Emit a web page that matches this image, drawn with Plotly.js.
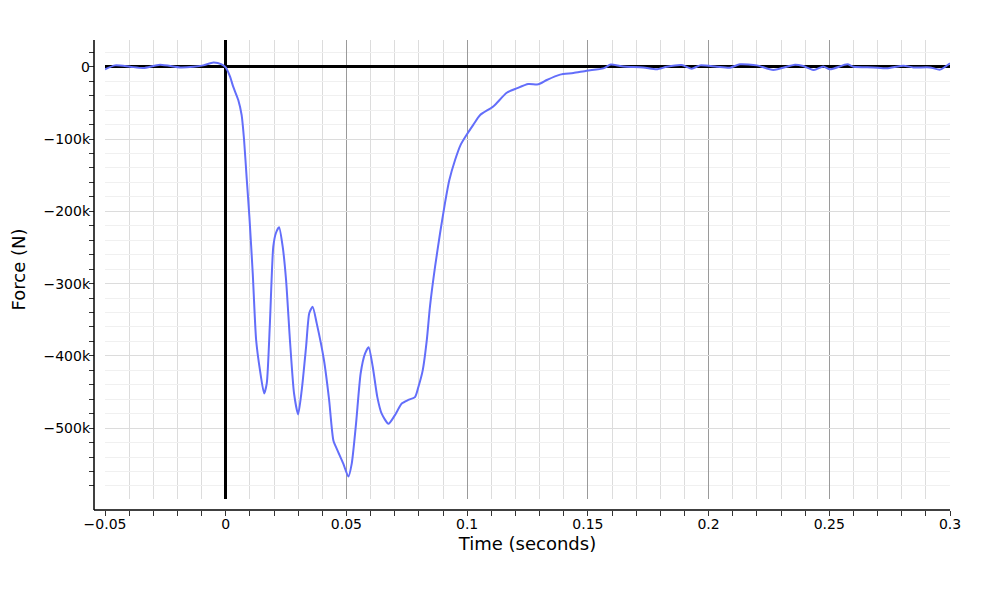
<!DOCTYPE html>
<html>
<head>
<meta charset="utf-8">
<script src="https://cdn.plot.ly/plotly-3.0.1.min.js"></script>
<style>html,body{margin:0;padding:0;background:#fff;}#chart{width:1000px;height:600px;}</style>
</head>
<body>
<div id="chart"></div>
<script>
// Time (seconds)
const timeSeconds = [
  -0.05, -0.0458, -0.0396, -0.0341, -0.0272, -0.0189, -0.0134, -0.0093, -0.0051, -0.0017,
  0.0, 0.0018, 0.0031, 0.0052, 0.0066, 0.0076, 0.0087, 0.0098, 0.0112, 0.0126,
  0.0142, 0.0159, 0.017, 0.0183, 0.0197, 0.0208, 0.0221, 0.0236, 0.025, 0.0266,
  0.0283, 0.03, 0.0315, 0.0333, 0.0346, 0.036, 0.0377, 0.0407, 0.0428, 0.0446,
  0.0462, 0.0487, 0.0508, 0.0522, 0.054, 0.0559, 0.0577, 0.0592, 0.0609, 0.0628,
  0.0646, 0.0674, 0.0701, 0.0729, 0.0756, 0.0784, 0.0798, 0.0816, 0.0833, 0.0846,
  0.0867, 0.0888, 0.0908, 0.0926, 0.095, 0.0973, 0.0998, 0.1026, 0.1053, 0.1108,
  0.1164, 0.1205, 0.1253, 0.1295, 0.133, 0.1385, 0.144, 0.1495, 0.1564, 0.1595,
  0.1633, 0.166, 0.173, 0.1785, 0.1827, 0.1889, 0.193, 0.1965, 0.2034, 0.2089,
  0.213, 0.22, 0.2268, 0.2358, 0.2392, 0.2437, 0.2475, 0.2503, 0.2575, 0.26,
  0.2682, 0.2738, 0.2807, 0.2848, 0.2917, 0.2959, 0.3
];
// Force (N)
const forceNewtons = [
  -3600, 1900, 0, -1700, 2900, -900, 0, 1900, 5800, 3400,
  -800, -13700, -27600, -46000, -67000, -101000, -155000, -207000, -286000, -378000,
  -420000, -452000, -438000, -355000, -249000, -230000, -222000, -249000, -295000, -378000,
  -452000, -481000, -447000, -387000, -341000, -332000, -355000, -406000, -460000, -517000,
  -530000, -549000, -567000, -549000, -493000, -424000, -397000, -388000, -415000, -457000,
  -480000, -494000, -482000, -466000, -461000, -457000, -443000, -420000, -378000, -332000,
  -277000, -230000, -189000, -157000, -129000, -108000, -94000, -80000, -67000, -55000,
  -36000, -30000, -24000, -24300, -18300, -10900, -8700, -5400, -2200, 3000,
  1000, 0, -900, -3600, 0, 2300, -2700, 1900, 0, -1300,
  3300, 1900, -4500, 2900, 1000, -4500, 500, -3600, 3300, 0,
  -900, -2200, 1400, -900, -900, -4000, 4800
];
const xTickVals = [-0.05, 0, 0.05, 0.1, 0.15, 0.2, 0.25, 0.3];
const xTickText = ["\u22120.05", "0", "0.05", "0.1", "0.15", "0.2", "0.25", "0.3"];
const yTickVals = [0, -100000, -200000, -300000, -400000, -500000];
const yTickText = ["0", "\u2212100k", "\u2212200k", "\u2212300k", "\u2212400k", "\u2212500k"];

const fontFam = "DejaVu Sans, Verdana, sans-serif";

const trace = {
  x: timeSeconds,
  y: forceNewtons,
  type: "scatter",
  mode: "lines",
  line: {color: "#636efa", width: 2, shape: "spline", smoothing: 0.6},
  hoverinfo: "skip"
};

const layout = {
  width: 1000,
  height: 600,
  margin: {l: 94, r: 50, t: 40, b: 90},
  paper_bgcolor: "#ffffff",
  plot_bgcolor: "#ffffff",
  showlegend: false,
  font: {family: fontFam, size: 14, color: "#000"},
  xaxis: {
    domain: [11 / 856, 1],
    anchor: "free",
    position: 0,
    range: [-0.05, 0.3],
    tickmode: "array",
    tickvals: xTickVals,
    ticktext: xTickText,
    ticks: "",
    ticklabelstandoff: 4,
    showline: false,
    showgrid: true,
    gridcolor: "#9a9a9a",
    gridwidth: 1,
    zeroline: true,
    zerolinecolor: "#000",
    zerolinewidth: 3,
    tickfont: {family: fontFam, size: 14, color: "#000"},
    minor: {dtick: 0.01, tick0: 0, ticks: "outside", ticklen: 5, tickcolor: "#333", tickwidth: 1, showgrid: true, gridcolor: "#dcdcdc", gridwidth: 1},
    title: {text: "Time (seconds)", font: {family: fontFam, size: 18, color: "#000"}, standoff: 6},
    automargin: false
  },
  yaxis: {
    domain: [11 / 470, 1],
    anchor: "free",
    position: 0,
    range: [-598000, 37000],
    tickmode: "array",
    tickvals: yTickVals,
    ticktext: yTickText,
    ticks: "",
    ticklabelstandoff: 4,
    showline: false,
    showgrid: true,
    gridcolor: "#dcdcdc",
    gridwidth: 1,
    zeroline: true,
    zerolinecolor: "#000",
    zerolinewidth: 3,
    tickfont: {family: fontFam, size: 14, color: "#000"},
    minor: {dtick: 20000, tick0: 0, ticks: "outside", ticklen: 5, tickcolor: "#333", tickwidth: 1, showgrid: true, gridcolor: "#f0f0f0", gridwidth: 1},
    title: {text: "Force (N)", font: {family: fontFam, size: 18, color: "#000"}, standoff: 12},
    automargin: false
  },
  shapes: [
    {type: "line", xref: "paper", yref: "paper", x0: 0, x1: 0, y0: 0, y1: 1, line: {color: "#000", width: 1.5}},
    {type: "line", xref: "paper", yref: "paper", x0: 0, x1: 1, y0: 0, y1: 0, line: {color: "#000", width: 1.5}}
  ]
};

Plotly.newPlot("chart", [trace], layout, {displayModeBar: false, staticPlot: true});
</script>
</body>
</html>
